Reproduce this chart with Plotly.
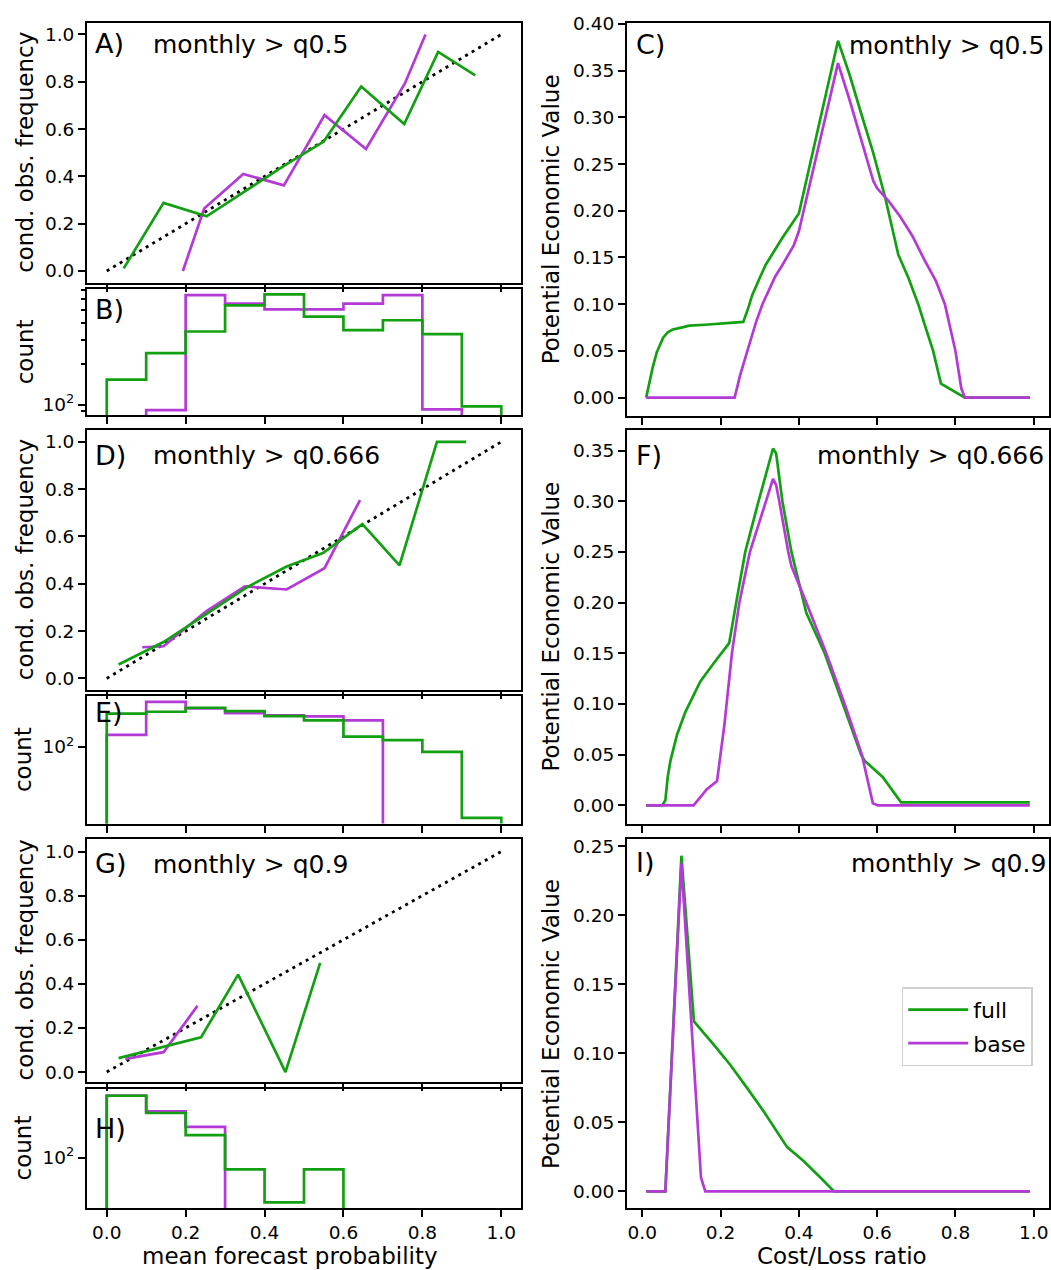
import numpy as np
import plotly.graph_objects as go

W, H = 1051, 1270

# ---------------- data ----------------
prob_ticks = [0.0, 0.2, 0.4, 0.6, 0.8, 1.0]
bin_edges = [0.0, 0.1, 0.2, 0.3, 0.4, 0.5, 0.6, 0.7, 0.8, 0.9, 1.0]
diag = [0.0, 1.0]

# reliability: q0.5
relA_full_x = [0.043, 0.144, 0.253, 0.35, 0.453, 0.55, 0.645, 0.754, 0.84, 0.934]
relA_full_y = [0.011, 0.288, 0.231, 0.337, 0.449, 0.547, 0.78, 0.621, 0.926, 0.827]
relA_base_x = [0.193, 0.247, 0.346, 0.449, 0.552, 0.657, 0.756, 0.808]
relA_base_y = [0.0, 0.264, 0.41, 0.362, 0.659, 0.516, 0.794, 1.0]
# reliability: q0.666
relD_full_x = [0.030, 0.144, 0.252, 0.355, 0.456, 0.548, 0.648, 0.742, 0.837, 0.911]
relD_full_y = [0.059, 0.154, 0.272, 0.385, 0.473, 0.53, 0.652, 0.478, 1.0, 1.0]
relD_base_x = [0.090, 0.144, 0.252, 0.350, 0.456, 0.552, 0.642]
relD_base_y = [0.132, 0.136, 0.284, 0.389, 0.376, 0.466, 0.754]
# reliability: q0.9
relG_full_x = [0.030, 0.239, 0.333, 0.453, 0.541]
relG_full_y = [0.063, 0.157, 0.442, 0.0, 0.495]
relG_base_x = [0.047, 0.144, 0.230]
relG_base_y = [0.06, 0.09, 0.30]

# histogram counts per bin
histB_full = [153, 240, 347, 541, 652, 447, 355, 420, 332, 97]
histB_base = [0, 91, 644, 557, 506, 506, 557, 644, 92, 0]
histE_full = [514, 566, 689, 583, 457, 370, 166, 139, 78, 3]
histE_base = [180, 925, 665, 529, 472, 450, 370, 0, 0, 0]
histH_full = [2120, 906, 304, 56, 11, 56, 0, 0, 0, 0]
histH_base = [2150, 984, 456, 0, 0, 0, 0, 0, 0, 0]

# potential economic value: q0.5
pevC_full_x = [0.01, 0.027, 0.037, 0.045, 0.053, 0.065, 0.078, 0.10, 0.12, 0.16, 0.20, 0.258,
               0.27, 0.281, 0.30, 0.315, 0.358, 0.40, 0.50, 0.53, 0.56, 0.59, 0.62, 0.654,
               0.68, 0.705, 0.72, 0.743, 0.763, 0.79, 0.824, 0.99]
pevC_full_y = [0.0, 0.033, 0.0485, 0.057, 0.064, 0.070, 0.073, 0.075, 0.077, 0.078, 0.0795, 0.081,
               0.095, 0.110, 0.128, 0.142, 0.171, 0.197, 0.382, 0.345, 0.303, 0.262, 0.215, 0.153,
               0.128, 0.100, 0.080, 0.050, 0.015, 0.008, 0.0, 0.0]
pevC_base_x = [0.01, 0.236, 0.25, 0.269, 0.29, 0.307, 0.34, 0.358, 0.387, 0.40, 0.50,
               0.53, 0.56, 0.59, 0.60, 0.63, 0.66, 0.69, 0.72, 0.75, 0.773, 0.80, 0.815, 0.824, 0.99]
pevC_base_y = [0.0, 0.0, 0.024, 0.050, 0.080, 0.100, 0.130, 0.142, 0.163, 0.178, 0.358,
               0.318, 0.276, 0.232, 0.224, 0.210, 0.193, 0.173, 0.148, 0.125, 0.100, 0.050, 0.010, 0.0, 0.0]
# potential economic value: q0.666
pevF_full_x = [0.01, 0.051, 0.059, 0.065, 0.072, 0.089, 0.11, 0.148, 0.182, 0.212, 0.222,
               0.240, 0.263, 0.297, 0.334, 0.342, 0.358, 0.381, 0.413, 0.419, 0.466, 0.513,
               0.559, 0.568, 0.614, 0.661, 0.99]
pevF_full_y = [0.0, 0.0, 0.005, 0.028, 0.044, 0.070, 0.092, 0.122, 0.140, 0.155, 0.160,
               0.200, 0.250, 0.300, 0.352, 0.347, 0.300, 0.250, 0.200, 0.190, 0.150, 0.100,
               0.050, 0.044, 0.028, 0.003, 0.003]
pevF_base_x = [0.01, 0.131, 0.148, 0.165, 0.191, 0.210, 0.229, 0.248, 0.275, 0.309, 0.334,
               0.342, 0.35, 0.373, 0.381, 0.419, 0.47, 0.517, 0.561, 0.589, 0.602, 0.99]
pevF_base_y = [0.0, 0.0, 0.008, 0.016, 0.024, 0.080, 0.150, 0.200, 0.250, 0.292, 0.322,
               0.316, 0.300, 0.250, 0.236, 0.200, 0.150, 0.100, 0.050, 0.002, 0.0, 0.0]
# potential economic value: q0.9
pevI_full_x = [0.01, 0.059, 0.10, 0.132, 0.183, 0.225, 0.268, 0.310, 0.37, 0.412, 0.455, 0.49, 0.99]
pevI_full_y = [0.0, 0.0, 0.243, 0.123, 0.106, 0.0915, 0.0747, 0.058, 0.032, 0.022, 0.010, 0.0, 0.0]
pevI_base_x = [0.01, 0.059, 0.10, 0.150, 0.161, 0.99]
pevI_base_y = [0.0, 0.0, 0.2375, 0.010, 0.0, 0.0]

# ---------------- style ----------------
GREEN = "#12a012"
PURPLE = "#b43ad6"
LW = 2.7
FONT = "DejaVu Sans"


def dom(top, bottom):
    return [1 - bottom / H, 1 - top / H]


LX = [87 / W, 521 / W]
RX = [627 / W, 1049 / W]
domains = {
    1: (LX, dom(12.7, 275)),
    2: (LX, dom(281.7, 408.3)),
    3: (RX, dom(13.3, 409)),
    4: (LX, dom(423.3, 685.7)),
    5: (LX, dom(691.7, 820)),
    6: (RX, dom(423.3, 820)),
    7: (LX, dom(836, 1080.7)),
    8: (LX, dom(1087.3, 1207.7)),
    9: (RX, dom(836, 1207.7)),
}


def axn(i):
    return ("x", "y") if i == 1 else (f"x{i}", f"y{i}")


def step_xy(edges, counts, floor=0.1):
    c = [v if v > 0 else floor for v in counts]
    return [edges[0]] + list(edges), [floor] + c + [floor]


fig = go.Figure()


def line(i, x, y, color, name=None, show=False, dash=None, width=LW, shape="linear"):
    xa, ya = axn(i)
    fig.add_trace(go.Scatter(
        x=x, y=y, mode="lines", xaxis=xa, yaxis=ya, name=name, showlegend=show,
        legendgroup=name, line=dict(color=color, width=width, dash=dash, shape=shape),
        hoverinfo="skip"))


DOT = "3px,4.6px"
# reliability panels
for i, fx, fy, bx, by in [(1, relA_full_x, relA_full_y, relA_base_x, relA_base_y),
                          (4, relD_full_x, relD_full_y, relD_base_x, relD_base_y),
                          (7, relG_full_x, relG_full_y, relG_base_x, relG_base_y)]:
    line(i, diag, diag, "black", dash=DOT, width=2.8)
    line(i, bx, by, PURPLE)
    line(i, fx, fy, GREEN)

# histograms
for i, hf, hb in [(2, histB_full, histB_base), (5, histE_full, histE_base), (8, histH_full, histH_base)]:
    x, y = step_xy(bin_edges, hb)
    line(i, x, y, PURPLE, shape="hv")
    x, y = step_xy(bin_edges, hf)
    line(i, x, y, GREEN, shape="hv")

# economic value
for i, fx, fy, bx, by in [(3, pevC_full_x, pevC_full_y, pevC_base_x, pevC_base_y),
                          (6, pevF_full_x, pevF_full_y, pevF_base_x, pevF_base_y),
                          (9, pevI_full_x, pevI_full_y, pevI_base_x, pevI_base_y)]:
    line(i, fx, fy, GREEN, name="full", show=(i == 9))
    line(i, bx, by, PURPLE, name="base", show=(i == 9))

common = dict(showline=True, linecolor="black", linewidth=2, mirror=True, ticks="outside",
              ticklen=7, tickwidth=2, tickcolor="black", showgrid=False, zeroline=False,
              ticklabeloverflow="allow",
              tickfont=dict(size=18.5, color="black", family=FONT))

layout = {}
yr = {1: [-0.05, 1.05], 4: [-0.05, 1.05], 7: [-0.046, 1.055],
      3: [-0.0194, 0.4007], 6: [-0.0179, 0.3703], 9: [-0.0122, 0.2548]}
logr = {2: [1.922, 2.851], 5: [0.355, 3.085], 8: [0.915, 3.477]}
for i in range(1, 10):
    xd, yd = domains[i]
    xa, ya = axn(i)
    xkey = "xaxis" if i == 1 else f"xaxis{i}"
    ykey = "yaxis" if i == 1 else f"yaxis{i}"
    right = i in (3, 6, 9)
    xax = dict(common, domain=xd, anchor=ya,
               range=[-0.039, 1.039] if right else [-0.05, 1.05],
               tickvals=prob_ticks, tickformat=".1f", showticklabels=(i in (8, 9)))
    if i in logr:
        yax = dict(common, domain=yd, anchor=xa, type="log", range=logr[i],
                   tickvals=[100], ticktext=["10<sup>2</sup>"])
        if i == 2:
            yax["minor"] = dict(tickmode="array", tickvals=[90, 200, 300, 400, 500, 600, 700],
                                ticks="outside", ticklen=4, tickwidth=1.5, tickcolor="black")
    elif right:
        yax = dict(common, domain=yd, anchor=xa, range=yr[i], dtick=0.05, tick0=0, tickformat=".2f")
    else:
        yax = dict(common, domain=yd, anchor=xa, range=yr[i], dtick=0.2, tick0=0, tickformat=".1f")
    layout[xkey] = xax
    layout[ykey] = yax


def ann(text, xpx, base_py, size, anchor="left"):
    return dict(text=text, x=xpx / W, y=1 - (base_py - 0.36 * size) / H, xref="paper", yref="paper",
                xanchor=anchor, yanchor="middle", showarrow=False, borderpad=0,
                font=dict(size=size, color="black", family=FONT))


def vtitle(text, xpx, ypx, size=23):
    return dict(text=text, x=xpx / W, y=1 - ypx / H, xref="paper", yref="paper", textangle=-90,
                xanchor="center", yanchor="middle", showarrow=False,
                font=dict(size=size, color="black", family=FONT))


def htitle(text, xpx, ypx, size=23):
    return dict(text=text, x=xpx / W, y=1 - ypx / H, xref="paper", yref="paper",
                xanchor="center", yanchor="middle", showarrow=False,
                font=dict(size=size, color="black", family=FONT))


FS = 25   # panel annotation text
FL = 27   # panel letters
annotations = [
    ann("A)", 94, 43.3, FL), ann("monthly &gt; q0.5", 152, 43.3, FS),
    ann("B)", 94, 311.7, FL),
    ann("C)", 634.5, 44.3, FL), ann("monthly &gt; q0.5", 1045, 44.3, FS, "right"),
    ann("D)", 94, 458.3, FL), ann("monthly &gt; q0.666", 152, 458.3, FS),
    ann("E)", 94, 717.7, FL),
    ann("F)", 634.5, 458.3, FL), ann("monthly &gt; q0.666", 1045, 458.3, FS, "right"),
    ann("G)", 94, 870, FL), ann("monthly &gt; q0.9", 152, 870, FS),
    ann("H)", 94, 1137.3, FL),
    ann("I)", 634.5, 869.3, FL), ann("monthly &gt; q0.9", 1046.5, 869.3, FS, "right"),
    vtitle("cond. obs. frequency", 25, 144), vtitle("cond. obs. frequency", 25, 554.5),
    vtitle("cond. obs. frequency", 25, 958),
    vtitle("count", 25, 345), vtitle("count", 23, 756), vtitle("count", 23, 1147.5),
    vtitle("Potential Economic Value", 551, 211), vtitle("Potential Economic Value", 551, 621.5),
    vtitle("Potential Economic Value", 551, 1022),
    htitle("mean forecast probability", 290, 1256), htitle("Cost/Loss ratio", 842, 1256),
]

fig.update_layout(
    width=W, height=H, margin=dict(l=0, r=0, t=0, b=0),
    paper_bgcolor="white", plot_bgcolor="white",
    font=dict(family=FONT, color="black"),
    annotations=annotations,
    legend=dict(x=901.7 / W, y=1 - 985 / H, xanchor="left", yanchor="top",
                bordercolor="#d0d0d0", borderwidth=1.5, bgcolor="white",
                itemwidth=60, tracegroupgap=2,
                font=dict(size=22, color="black", family=FONT)),
    **layout,
)

fig.write_html(
    "out.html",
    config={"displayModeBar": False, "responsive": False},
    post_script=(
        "document.documentElement.style.margin='0';"
        "document.documentElement.style.overflow='hidden';"
        "document.body.style.margin='0';document.body.style.padding='0';"
        "document.body.style.overflow='hidden';"
        "var gd=document.getElementById('{plot_id}');"
        "gd.style.position='absolute';gd.style.left='0px';gd.style.top='0px';"
    ),
)
